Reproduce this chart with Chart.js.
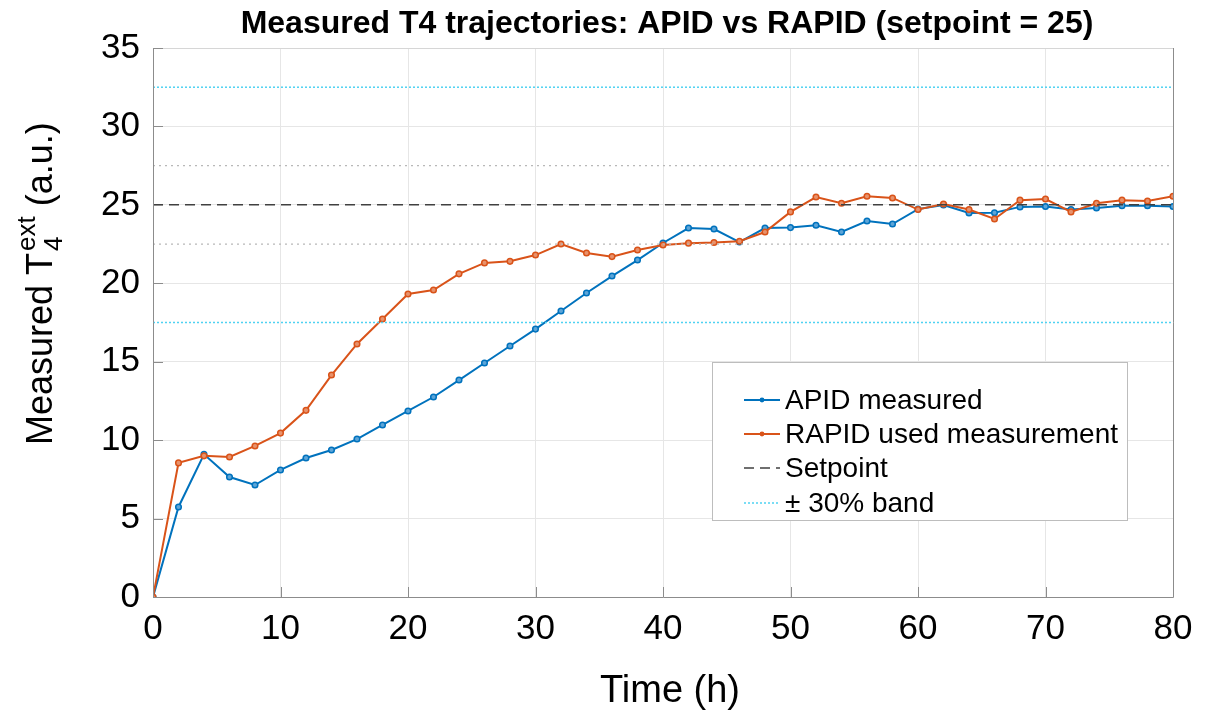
<!DOCTYPE html>
<html>
<head>
<meta charset="utf-8">
<script src="https://cdn.jsdelivr.net/npm/chart.js@4.4.0/dist/chart.umd.min.js"></script>
<style>
  html, body { margin: 0; padding: 0; background: #fff; }
  #chartT4 { display: block; }
</style>
</head>
<body>
<canvas id="chartT4" width="1206" height="713"></canvas>
<script>
// Dados
const horas = [0, 2, 4, 6, 8, 10, 12, 14, 16, 18, 20, 22, 24, 26, 28, 30, 32, 34, 36, 38, 40,
  42, 44, 46, 48, 50, 52, 54, 56, 58, 60, 62, 64, 66, 68, 70, 72, 74, 76, 78, 80];
const apidMedido = [0, 5.74, 9.1, 7.65, 7.14, 8.1, 8.86, 9.37, 10.07, 10.97, 11.86, 12.75, 13.83,
  14.92, 16.0, 17.08, 18.23, 19.38, 20.46, 21.48, 22.57, 23.52, 23.46, 22.63, 23.52, 23.55,
  23.7, 23.27, 23.97, 23.78, 24.73, 24.99, 24.48, 24.5, 24.87, 24.9, 24.7, 24.8, 24.95, 24.95, 24.9];
const rapidUsado = [0, 8.55, 9.0, 8.93, 9.63, 10.45, 11.9, 14.15, 16.13, 17.72, 19.32, 19.57, 20.6,
  21.3, 21.4, 21.8, 22.5, 21.93, 21.7, 22.12, 22.44, 22.56, 22.6, 22.68, 23.27, 24.55, 25.5,
  25.1, 25.55, 25.44, 24.7, 25.05, 24.7, 24.1, 25.3, 25.37, 24.55, 25.1, 25.3, 25.25, 25.55];
const setpoint = 25;
const faixa30 = [17.5, 32.5];
const faixa10 = [22.5, 27.5];
const xTicks = [0, 10, 20, 30, 40, 50, 60, 70, 80];
const yTicks = [0, 5, 10, 15, 20, 25, 30, 35];

const AZUL = '#0072BD';
const LARANJA = '#D95319';
const CIANO = '#4FD2F2';
const FONTE = '"Liberation Sans", Arial, Helvetica, sans-serif';

const pares = vals => horas.map((h, i) => ({ x: h, y: vals[i] }));
const linhaH = y => [{ x: xTicks[0], y: y }, { x: xTicks[xTicks.length - 1], y: y }];

const datasets = [
  {
    label: 'APID measured', data: pares(apidMedido), borderColor: AZUL, backgroundColor: '#5da5d8',
    borderWidth: 2, pointRadius: 2.8, pointBorderWidth: 1.5, pointBorderColor: AZUL, order: 5
  },
  {
    label: 'RAPID used measurement', data: pares(rapidUsado), borderColor: LARANJA, backgroundColor: '#e8926c',
    borderWidth: 2, pointRadius: 2.8, pointBorderWidth: 1.5, pointBorderColor: LARANJA, order: 4
  },
  {
    label: 'Setpoint', data: linhaH(setpoint), borderColor: '#404040', borderDash: [10, 6],
    borderWidth: 1.5, pointRadius: 0, order: 3
  },
  {
    label: '± 30% band', data: linhaH(faixa30[0]), borderColor: CIANO, borderDash: [2, 2],
    borderWidth: 1.5, pointRadius: 0, order: 1
  },
  {
    label: 'band30b', data: linhaH(faixa30[1]), borderColor: CIANO, borderDash: [2, 2],
    borderWidth: 1.5, pointRadius: 0, order: 1
  },
  {
    label: 'band10a', data: linhaH(faixa10[0]), borderColor: '#b8b8b8', borderDash: [2, 4],
    borderWidth: 1.2, pointRadius: 0, order: 2
  },
  {
    label: 'band10b', data: linhaH(faixa10[1]), borderColor: '#b8b8b8', borderDash: [2, 4],
    borderWidth: 1.2, pointRadius: 0, order: 2
  }
];

// Plugin: título, rótulos dos eixos, marcas internas e legenda
const extras = {
  id: 'extras',
  beforeDraw(chart) {
    const ctx = chart.ctx;
    ctx.save();
    ctx.fillStyle = '#fff';
    ctx.fillRect(0, 0, chart.width, chart.height);
    ctx.restore();
  },
  afterDraw(chart) {
    const ctx = chart.ctx;
    const a = chart.chartArea;
    const xs = chart.scales.x, ys = chart.scales.y;
    ctx.save();

    // caixa
    ctx.strokeStyle = '#8c8c8c';
    ctx.lineWidth = 1;
    ctx.beginPath();
    ctx.moveTo(a.left + 0.5, a.top);
    ctx.lineTo(a.left + 0.5, a.bottom + 0.5);
    ctx.lineTo(a.right + 0.5, a.bottom + 0.5);
    ctx.lineTo(a.right + 0.5, a.top);
    ctx.stroke();
    ctx.strokeStyle = '#d6d6d6';
    ctx.beginPath();
    ctx.moveTo(a.left, a.top + 0.5);
    ctx.lineTo(a.right, a.top + 0.5);
    ctx.stroke();

    // marcas internas
    ctx.strokeStyle = '#8c8c8c';
    ctx.beginPath();
    yTicks.forEach(v => {
      const y = Math.round(ys.getPixelForValue(v)) + 0.5;
      ctx.moveTo(a.left, y); ctx.lineTo(a.left + 10, y);
    });
    xTicks.forEach(v => {
      const x = Math.round(xs.getPixelForValue(v)) + 0.5;
      ctx.moveTo(x, a.bottom); ctx.lineTo(x, a.bottom - 10);
    });
    ctx.stroke();

    // título
    ctx.fillStyle = '#000';
    ctx.textAlign = 'center';
    ctx.textBaseline = 'alphabetic';
    ctx.font = 'bold 32px ' + FONTE;
    ctx.fillText('Measured T4 trajectories: APID vs RAPID (setpoint = 25)', 667, 33);

    // rótulo eixo x
    ctx.font = '38px ' + FONTE;
    ctx.fillText('Time (h)', 670, 702);

    // rótulo eixo y com sobrescrito/subscrito
    ctx.save();
    ctx.translate(52, 445);
    ctx.rotate(-Math.PI / 2);
    ctx.textAlign = 'left';
    const big = '36px ' + FONTE, small = '26px ' + FONTE;
    let x = 0;
    ctx.font = big;
    ctx.fillText('Measured T', x, 0);
    x += ctx.measureText('Measured T').width + 2;
    ctx.font = small;
    ctx.fillText('ext', x, -17);
    ctx.fillText('4', x, 10);
    x += ctx.measureText('ext').width;
    ctx.font = big;
    ctx.fillText(' (a.u.)', x, 0);
    ctx.restore();

    // legenda
    const L = { left: 712, top: 362, right: 1127, bottom: 520 };
    ctx.fillStyle = '#fff';
    ctx.fillRect(L.left, L.top, L.right - L.left, L.bottom - L.top);
    ctx.strokeStyle = '#bdbdbd';
    ctx.lineWidth = 1;
    ctx.strokeRect(L.left + 0.5, L.top + 0.5, L.right - L.left, L.bottom - L.top);
    const itens = [datasets[0], datasets[1], datasets[2], datasets[3]];
    const linhasY = [400, 434, 468, 503];
    ctx.font = '28px ' + FONTE;
    ctx.textAlign = 'left';
    ctx.textBaseline = 'middle';
    itens.forEach((d, i) => {
      const y = linhasY[i];
      ctx.strokeStyle = d.borderColor;
      ctx.lineWidth = d.borderWidth;
      ctx.setLineDash(d.borderDash || []);
      ctx.beginPath();
      ctx.moveTo(744, y); ctx.lineTo(780, y);
      ctx.stroke();
      ctx.setLineDash([]);
      if (d.pointRadius) {
        ctx.fillStyle = d.borderColor;
        ctx.beginPath();
        ctx.arc(762, y, 2.4, 0, Math.PI * 2);
        ctx.fill();
      }
      ctx.fillStyle = '#000';
      ctx.fillText(d.label, 785, y + 1);
    });
    ctx.restore();
  }
};

const ctxT4 = document.getElementById('chartT4').getContext('2d');
new Chart(ctxT4, {
  type: 'line',
  data: { datasets: datasets },
  options: {
    responsive: false,
    animation: false,
    devicePixelRatio: 1,
    layout: { padding: { top: 48, right: 33, left: 0, bottom: 0 } },
    plugins: {
      legend: { display: false },
      title: { display: false },
      tooltip: { enabled: false }
    },
    scales: {
      x: {
        type: 'linear', min: 0, max: 80,
        afterFit: s => { s.height = 116; },
        afterBuildTicks: s => { s.ticks = xTicks.map(v => ({ value: v })); },
        grid: { color: '#e6e6e6', drawTicks: false },
        border: { display: false },
        ticks: { color: '#000', padding: 11, font: { size: 35, family: FONTE } }
      },
      y: {
        type: 'linear', min: 0, max: 35,
        afterFit: s => { s.width = 153; },
        afterBuildTicks: s => { s.ticks = yTicks.map(v => ({ value: v })); },
        grid: { color: '#e6e6e6', drawTicks: false },
        border: { display: false },
        ticks: { color: '#000', padding: 13, font: { size: 35, family: FONTE } }
      }
    }
  },
  plugins: [extras]
});
</script>
</body>
</html>
